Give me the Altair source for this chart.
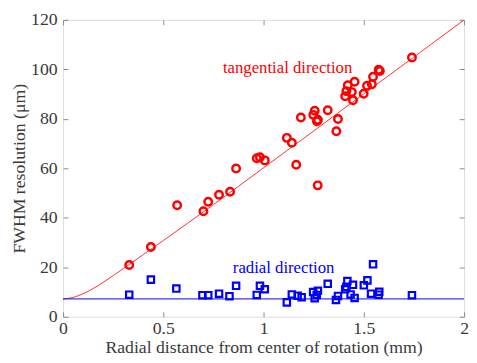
import altair as alt
import pandas as pd

# tangential (red circles)
tan_x = [0.33, 0.438, 0.569, 0.70, 0.724, 0.778, 0.833, 0.863, 0.966, 0.982, 1.006,
         1.116, 1.141, 1.163, 1.186, 1.248, 1.255, 1.271, 1.266, 1.27, 1.32, 1.371, 1.363,
         1.407, 1.413, 1.42, 1.44, 1.446, 1.454, 1.499, 1.516, 1.54, 1.546, 1.574, 1.58, 1.74]
tan_y = [20.9, 28.2, 45.1, 42.6, 46.5, 49.3, 50.5, 59.9, 64.1, 64.5, 63.2,
         72.3, 70.3, 61.4, 80.5, 81.6, 83.3, 79.6, 79.0, 53.1, 83.5, 79.9, 75.0,
         89.1, 91.2, 93.6, 90.8, 87.5, 95.0, 90.1, 93.4, 94.0, 97.0, 99.8, 99.3, 104.8]

# radial (blue squares)
rad_x = [0.33, 0.438, 0.565, 0.695, 0.724, 0.778, 0.83, 0.863, 0.966, 0.982, 1.006,
         1.116, 1.141, 1.17, 1.19, 1.247, 1.255, 1.271, 1.265, 1.32, 1.361, 1.371,
         1.407, 1.418, 1.413, 1.446, 1.434, 1.454, 1.5, 1.518, 1.546, 1.536, 1.577, 1.574, 1.74]
rad_y = [8.9, 15.0, 11.4, 8.7, 8.7, 9.3, 8.3, 12.5, 8.8, 12.5, 11.1,
         5.8, 9.0, 8.5, 7.9, 10.0, 7.5, 10.5, 8.8, 13.3, 6.8, 8.4,
         11.1, 14.4, 12.1, 12.9, 9.0, 7.6, 12.7, 14.7, 21.2, 9.3, 10.1, 8.9, 8.7]

# fitted curves
fit_tan_x = [0, 0.05, 0.1, 0.15, 0.2, 0.3, 0.4, 0.5, 0.75, 1.0, 1.25, 1.5, 1.75, 2.0]
fit_tan_y = [7.2, 7.8, 9.3, 11.4, 13.9, 19.4, 25.1, 30.8, 45.3, 60.2, 75.1, 90.1, 105.0, 120.0]
fit_rad_x = [0, 2.0]
fit_rad_y = [7.2, 7.2]

labels_text = ["tangential direction", "radial direction"]
labels_x = [1.12, 1.1]
labels_y = [100.6, 19.7]
labels_color = ["#ff0000", "#0000ff"]

x_ticks = [0, 0.5, 1, 1.5, 2]
y_ticks = [0, 20, 40, 60, 80, 100, 120]

tan = pd.DataFrame({"x": tan_x, "y": tan_y})
rad = pd.DataFrame({"x": rad_x, "y": rad_y})
ftan = pd.DataFrame({"x": fit_tan_x, "y": fit_tan_y})
frad = pd.DataFrame({"x": fit_rad_x, "y": fit_rad_y})
lab = pd.DataFrame({"x": labels_x, "y": labels_y, "t": labels_text, "c": labels_color})

FONT = "Liberation Serif"
GRAY = "#8a8a8a"
TXT = "#3a3a3a"

xs = alt.Scale(domain=[0, 2], nice=False)
ys = alt.Scale(domain=[0, 120], nice=False)

x_main = alt.X("x:Q", scale=xs, title="Radial distance from center of rotation (mm)",
               axis=alt.Axis(orient="bottom", values=x_ticks, format="~g",
                             domain=False, tickSize=5, offset=-5, tickColor=GRAY,
                             labelPadding=3, labelFont=FONT, labelFontSize=18,
                             labelColor=TXT, titleFont=FONT, titleFontSize=18,
                             titleFontWeight="normal", titleColor=TXT, titlePadding=1,
                             grid=False, labelFlush=False))
y_main = alt.Y("y:Q", scale=ys, title="FWHM resolution (μm)",
               axis=alt.Axis(orient="left", values=y_ticks, format="d",
                             domain=False, tickSize=5, offset=-5, tickColor=GRAY,
                             labelPadding=6, labelFont=FONT, labelFontSize=18,
                             labelColor=TXT, titleFont=FONT, titleFontSize=18,
                             titleFontWeight="normal", titleColor=TXT, titlePadding=2,
                             grid=False, labelFlush=False))
x_top = alt.X("x:Q", scale=xs, title=None,
              axis=alt.Axis(orient="top", values=x_ticks, domain=False,
                            labels=False, tickSize=5, offset=-5, tickColor=GRAY, grid=False))
y_right = alt.Y("y:Q", scale=ys, title=None,
                axis=alt.Axis(orient="right", values=y_ticks, domain=False,
                              labels=False, tickSize=5, offset=-5,
                              tickColor=GRAY, grid=False))
x_none = alt.X("x:Q", scale=xs, axis=None)
y_none = alt.Y("y:Q", scale=ys, axis=None)

fit_t = alt.Chart(ftan).mark_line(color="#ff3030", strokeWidth=1, interpolate="monotone",
                                   clip=True).encode(x=x_main, y=y_main)
fit_r = alt.Chart(frad).mark_line(color="#0000ff", strokeWidth=1).encode(x=x_top, y=y_right)

pts_t = alt.Chart(tan).mark_point(shape="circle", color="#ff0000", size=58,
                                  strokeWidth=2.5, opacity=1).encode(x=x_none, y=y_none)
pts_r = alt.Chart(rad).mark_point(shape="square", color="#0000ff", size=42,
                                  strokeWidth=2.2, opacity=1).encode(x=x_none, y=y_none)
txt = alt.Chart(lab).mark_text(font=FONT, fontSize=17, align="center",
                               baseline="middle").encode(
    x=x_none, y=y_none, text="t:N", color=alt.Color("c:N", scale=None))

chart = alt.layer(fit_t, fit_r, pts_t, pts_r, txt).resolve_axis(
    x="independent", y="independent"
).properties(
    width=408, height=302,
    autosize=alt.AutoSizeParams(type="none"),
    padding={"left": 56, "top": 9, "right": 5, "bottom": 44},
).configure_view(stroke=GRAY, strokeWidth=1.5).configure(background="white")

chart.save("out.html", embed_options={"renderer": "svg", "actions": False})
